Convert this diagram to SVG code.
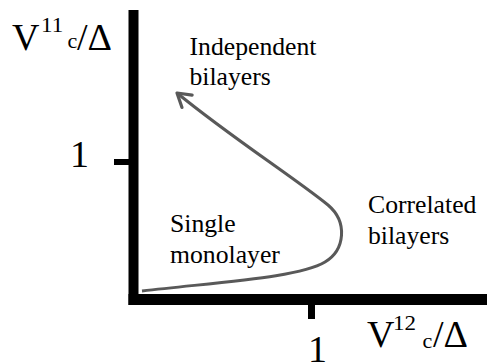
<svg xmlns="http://www.w3.org/2000/svg" width="487" height="362" viewBox="0 0 487 362">
<style>
text{font-family:"Liberation Serif","Times New Roman",serif;fill:#000}
.lbl{font-size:25.7px}
.big{font-size:38px}
.sup{font-size:20px}
.sub{font-size:22px}
.axis{fill:#000}
.curve{fill:none;stroke:#595959;stroke-width:3}
</style>
<defs>
<marker id="arr" markerUnits="userSpaceOnUse" markerWidth="30" markerHeight="30" viewBox="-20 -15 30 30" refX="0" refY="0" orient="auto">
<path d="M-13,-8 L0,0 L-13,8" fill="none" stroke="#595959" stroke-width="3.2" stroke-linecap="round" stroke-linejoin="round"/>
</marker>
</defs>
<rect width="487" height="362" fill="#fff"/>
<g id="axes">
<rect class="axis" x="128.5" y="10" width="10" height="295"/>
<rect class="axis" x="128.5" y="294" width="358.5" height="11"/>
<rect class="axis" x="114" y="159" width="15" height="6"/>
<rect class="axis" x="308" y="304" width="7" height="15"/>
</g>
<g id="axis-labels">
<text class="big" x="12" y="50">V</text>
<text class="sup" x="41" y="32.5" transform="translate(41 0) scale(1.15 1) translate(-41 0)">11</text>
<text class="sub" x="67.5" y="48">c</text>
<text class="big" x="77" y="50">/Δ</text>
<text class="big" x="70" y="167">1</text>
<text class="big" x="367" y="347">V</text>
<text class="sup" x="393" y="330" transform="translate(393 0) scale(1.15 1) translate(-393 0)">12</text>
<text class="sub" x="422.5" y="348">c</text>
<text class="big" x="433" y="347">/Δ</text>
<text class="big" x="308" y="362">1</text>
</g>
<g id="connectors">
<path class="curve" d="M142,291 C230,281 300,277 325,262 C345,250 348,222 328,205 C292,176 232,138 177,93" marker-end="url(#arr)"/>
</g>
<g id="node-independent">
<text class="lbl" x="189.5" y="55">Independent</text>
<text class="lbl" x="189.5" y="85">bilayers</text>
</g>
<g id="node-single">
<text class="lbl" x="170" y="232">Single</text>
<text class="lbl" x="170" y="263">monolayer</text>
</g>
<g id="node-correlated">
<text class="lbl" x="368" y="213">Correlated</text>
<text class="lbl" x="368" y="244">bilayers</text>
</g>
</svg>
